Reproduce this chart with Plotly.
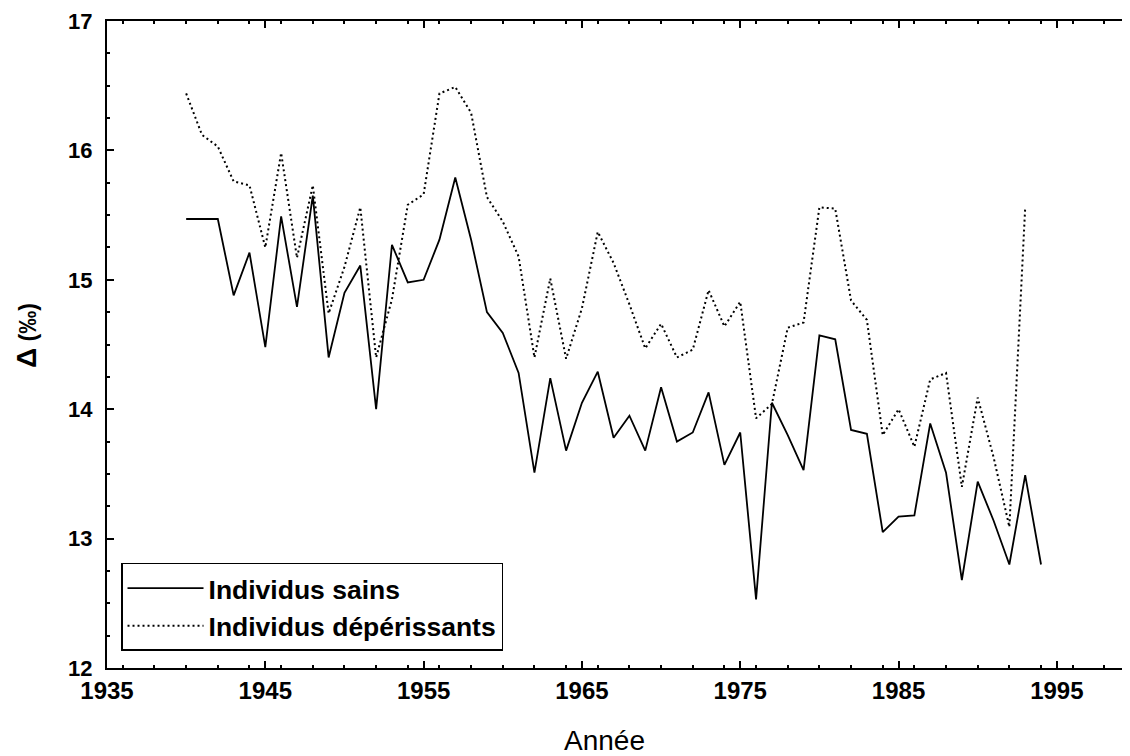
import plotly.graph_objects as go

years_sains = list(range(1940, 1995))
sains = [15.47, 15.47, 15.47, 14.88, 15.21, 14.48, 15.49, 14.79, 15.65, 14.40,
         14.90, 15.11, 14.00, 15.27, 14.98, 15.00, 15.31, 15.79, 15.31, 14.75,
         14.59, 14.28, 13.51, 14.24, 13.68, 14.05, 14.29, 13.78, 13.95, 13.68,
         14.17, 13.75, 13.82, 14.13, 13.57, 13.82, 12.53, 14.05, 13.80, 13.53,
         14.57, 14.54, 13.84, 13.81, 13.05, 13.17, 13.18, 13.89, 13.51, 12.68,
         13.44, 13.14, 12.80, 13.49, 12.80]

years_dep = list(range(1940, 1994))
deperissants = [16.44, 16.12, 16.03, 15.76, 15.73, 15.25, 15.98, 15.17, 15.73, 14.74,
                15.10, 15.56, 14.40, 14.85, 15.58, 15.66, 16.44, 16.49, 16.29, 15.64,
                15.45, 15.18, 14.40, 15.01, 14.39, 14.78, 15.37, 15.13, 14.81, 14.47,
                14.66, 14.40, 14.46, 14.92, 14.64, 14.83, 13.93, 14.04, 14.63, 14.67,
                15.56, 15.55, 14.84, 14.69, 13.80, 14.00, 13.71, 14.23, 14.28, 13.40,
                14.09, 13.63, 13.09, 15.56]

x_ticks = [1935, 1945, 1955, 1965, 1975, 1985, 1995]
y_ticks = [12, 13, 14, 15, 16, 17]

FONT = "Liberation Sans"

fig = go.Figure()
fig.add_trace(go.Scatter(x=years_sains, y=sains, mode="lines",
                         name="<b>Individus sains</b>",
                         line=dict(color="black", width=1.8)))
fig.add_trace(go.Scatter(x=years_dep, y=deperissants, mode="lines",
                         name="<b>Individus dépérissants</b>",
                         line=dict(color="black", width=2, dash="2px,3px")))

fig.update_layout(
    width=1122, height=748,
    margin=dict(l=99, r=0, t=13, b=88),
    plot_bgcolor="white", paper_bgcolor="white",
    font=dict(family=FONT, color="black"),
    showlegend=True,
    legend=dict(x=0.0137, y=0.0263, xanchor="left", yanchor="bottom",
                bordercolor="black", borderwidth=1.5, bgcolor="white",
                font=dict(size=26.5, family=FONT, color="black"),
                itemwidth=76, tracegroupgap=0),
    annotations=[
        dict(text="Année", xref="paper", yref="paper",
             x=(604 - 107) / 1023, y=-(740 - 668) / 647,
             xanchor="center", yanchor="middle", showarrow=False,
             font=dict(size=28, family=FONT, color="black")),
        dict(text="<b><span style='font-size:28px'>Δ</span> (‰)</b>", xref="paper", yref="paper",
             x=(26 - 107) / 1023, y=(668 - 336) / 647,
             xanchor="center", yanchor="middle", showarrow=False, textangle=-90,
             font=dict(size=23, family=FONT, color="black")),
    ],
)
fig.update_xaxes(
    range=[1935, 1999.62], tickmode="array", tickvals=x_ticks,
    ticktext=[f"<b>{t}</b>" for t in x_ticks],
    tickfont=dict(size=24, family=FONT),
    showline=True, linecolor="black", linewidth=2, mirror="ticks",
    ticks="inside", ticklen=7, tickcolor="black", tickwidth=1.5,
    minor=dict(dtick=2, ticks="inside", ticklen=3, tickcolor="black", showgrid=False),
    showgrid=False, zeroline=False,
)
fig.update_yaxes(
    range=[12, 17], tickmode="array", tickvals=y_ticks,
    ticktext=[f"<b>{t}</b>" for t in y_ticks],
    tickfont=dict(size=22, family=FONT),
    showline=True, linecolor="black", linewidth=2, mirror=False,
    ticks="inside", ticklen=7, tickcolor="black", tickwidth=1.5,
    minor=dict(dtick=0.25, ticks="inside", ticklen=3, tickcolor="black", showgrid=False),
    showgrid=False, zeroline=False, ticklabelstandoff=8,
)

fig.write_html("out.html")
